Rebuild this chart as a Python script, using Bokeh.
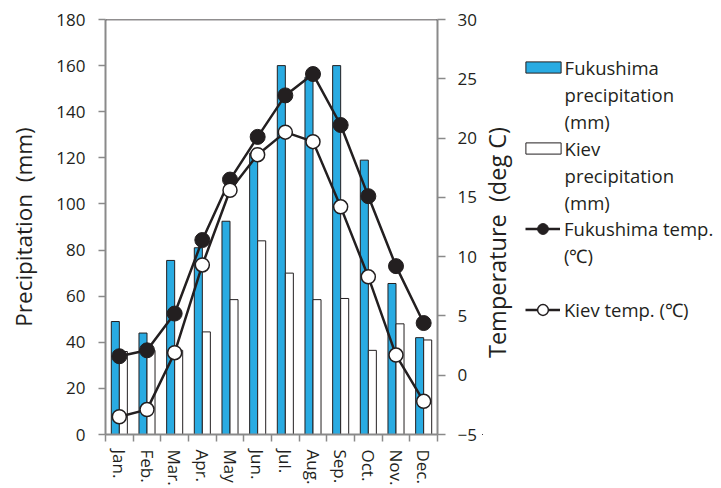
import math
import numpy as np
from bokeh.plotting import figure
from bokeh.layouts import row
from bokeh.models import (Range1d, LinearAxis, FixedTicker, Legend, LegendItem,
                          Label, Span, ColumnDataSource)
from bokeh.embed import file_html
from bokeh.resources import INLINE

months = ["Jan.", "Feb.", "Mar.", "Apr.", "May", "Jun.", "Jul.", "Aug.", "Sep.", "Oct.", "Nov.", "Dec."]
fukushima_precip = [49, 44, 75.5, 81, 92.5, 122, 160, 155, 160, 119, 65.5, 42]
kiev_precip = [36, 36.5, 36.5, 44.5, 58.5, 84, 70, 58.5, 59, 36.5, 48, 41]
fukushima_temp = [1.6, 2.1, 5.2, 11.4, 16.5, 20.1, 23.6, 25.4, 21.1, 15.1, 9.2, 4.4]
kiev_temp = [-3.5, -2.9, 1.9, 9.3, 15.6, 18.6, 20.5, 19.7, 14.2, 8.3, 1.7, -2.2]
precip_ticks = list(range(0, 181, 20))
temp_ticks = list(range(-5, 31, 5))

FONT = "Open Sans"
DARK = "#231f20"
GRAY = "#8a8a8a"
BLUE = "#29abe2"

idx = np.arange(1, len(months) + 1)
bw = 0.29
src = ColumnDataSource(dict(
    xf=idx - bw / 2, xk=idx + bw / 2,
    fp=fukushima_precip, kp=kiev_precip,
    x=idx, ft=fukushima_temp, kt=kiev_temp,
))

MAIN_W = 482
p = figure(width=MAIN_W, height=488, x_range=Range1d(0.5, 12.5), y_range=Range1d(0, 180),
           output_backend="svg", toolbar_location=None,
           min_border_left=105, min_border_right=MAIN_W - 437, min_border_top=19, min_border_bottom=51)
p.extra_y_ranges = {"temp": Range1d(-5, 30)}
p.xgrid.visible = False
p.ygrid.visible = False
p.outline_line_color = None

bar_f = dict(fill_color=BLUE, line_color=DARK, line_width=1)
bar_k = dict(fill_color="white", line_color=DARK, line_width=1)
line_s = dict(line_color=DARK, line_width=2.5)
mk_f = dict(fill_color=DARK, line_color=DARK)
mk_k = dict(fill_color="white", line_color=DARK, line_width=1.5)

p.vbar(x="xf", top="fp", width=bw, bottom=0, source=src, **bar_f)
p.vbar(x="xk", top="kp", width=bw, bottom=0, source=src, **bar_k)
p.line("x", "ft", source=src, y_range_name="temp", **line_s)
p.scatter("x", "ft", source=src, y_range_name="temp", size=15, **mk_f)
p.line("x", "kt", source=src, y_range_name="temp", **line_s)
p.scatter("x", "kt", source=src, y_range_name="temp", size=14, **mk_k)

p.add_layout(Span(location=180, dimension="width", line_color=DARK, line_width=1.5))

# left axis
ya = p.yaxis[0]
ya.ticker = FixedTicker(ticks=precip_ticks)
ya.axis_line_color = GRAY
ya.axis_line_width = 2
ya.major_tick_line_color = GRAY
ya.major_tick_line_width = 1.5
ya.major_tick_out = 7
ya.major_tick_in = 0
ya.minor_tick_line_color = None
ya.major_label_standoff = 13
ya.major_label_text_font = FONT
ya.major_label_text_font_size = "17px"
ya.major_label_text_color = DARK
ya.axis_label = "Precipitation\u00a0 (mm)"
ya.axis_label_text_font = FONT
ya.axis_label_text_font_size = "22.5px"
ya.axis_label_text_font_style = "normal"
ya.axis_label_text_color = DARK
ya.axis_label_standoff = 14

# right axis
ra = LinearAxis(y_range_name="temp", ticker=FixedTicker(ticks=temp_ticks))
ra.axis_line_color = GRAY
ra.axis_line_width = 2
ra.major_tick_line_color = GRAY
ra.major_tick_line_width = 1.5
ra.major_tick_out = 8
ra.major_tick_in = 0
ra.minor_tick_line_color = None
ra.major_label_standoff = 12
ra.major_label_text_font = FONT
ra.major_label_text_font_size = "17px"
ra.major_label_text_color = DARK
ra.major_label_overrides = {t: (("\u2212" + str(-t)) if t < 0 else str(t)) for t in temp_ticks}
p.add_layout(ra, "right")

# bottom axis
xa = p.xaxis[0]
xa.ticker = FixedTicker(ticks=list(idx), minor_ticks=[i + 0.5 for i in range(len(months) + 1)])
xa.major_label_overrides = {int(i): m for i, m in zip(idx, months)}
xa.major_label_orientation = "vertical"
xa.axis_line_color = GRAY
xa.axis_line_width = 2
xa.major_tick_out = 0
xa.major_tick_in = 0
xa.major_tick_line_color = None
xa.minor_tick_out = 7
xa.minor_tick_in = 0
xa.minor_tick_line_color = GRAY
xa.minor_tick_line_width = 1.5
xa.major_label_standoff = 8
xa.major_label_text_font = FONT
xa.major_label_text_font_size = "17px"
xa.major_label_text_color = DARK

# side panel: right axis title + legends (legend glyphs only; data lies outside this panel's ranges)
LEG_W = 721 - MAIN_W
q = figure(width=LEG_W, height=488, x_range=Range1d(1000, 1001), y_range=Range1d(1000, 1001),
           output_backend="svg", toolbar_location=None, min_border=0,
           x_axis_location=None, y_axis_location=None)
q.xgrid.visible = False
q.ygrid.visible = False
q.outline_line_color = None

DY = 54
q.add_layout(Label(x=496 - MAIN_W, y=192, x_units="screen", y_units="screen",
                   text="Temperature\u00a0 (deg C)", angle=math.pi / 2,
                   text_align="center", text_baseline="middle",
                   text_font=FONT, text_font_size="23.5px", text_color=DARK))

df = q.vbar(x="xf", top="fp", width=bw, source=src, **bar_f)
dk = q.vbar(x="xk", top="kp", width=bw, source=src, **bar_k)
dlf = q.line("x", "ft", source=src, **line_s)
dsf = q.scatter("x", "ft", source=src, **mk_f)
dlk = q.line("x", "kt", source=src, **line_s)
dsk = q.scatter("x", "kt", source=src, **mk_k)
blank = q.scatter("x", "ft", source=src, fill_alpha=0, line_alpha=0)

ROW = 27
common = dict(padding=0, margin=0, spacing=0, border_line_color=None, background_fill_alpha=0,
              label_text_font=FONT, label_text_font_size="18.5px", label_text_color=DARK,
              label_height=ROW)
leg_bars = Legend(items=[
    LegendItem(label="Fukushima", renderers=[df]),
    LegendItem(label="precipitation", renderers=[blank]),
    LegendItem(label="(mm)", renderers=[blank]),
    LegendItem(label="Kiev", renderers=[dk]),
    LegendItem(label="precipitation", renderers=[blank]),
    LegendItem(label="(mm)", renderers=[blank]),
], location=(38.6, 488 - (67 - ROW / 2) - 6 * ROW - DY), glyph_width=44, glyph_height=14,
    label_standoff=0, **common)
leg_lines = Legend(items=[
    LegendItem(label="Fukushima temp.", renderers=[dlf, dsf]),
    LegendItem(label="(\u2103)", renderers=[blank]),
    LegendItem(label=" ", renderers=[blank]),
    LegendItem(label="Kiev temp. (\u2103)", renderers=[dlk, dsk]),
], location=(43, 488 - (228 - ROW / 2) - 4 * ROW - DY), glyph_width=35, glyph_height=ROW,
    label_standoff=4, **common)
q.add_layout(leg_bars)
q.add_layout(leg_lines)

open("out.html", "w").write(file_html(row(p, q), INLINE))
